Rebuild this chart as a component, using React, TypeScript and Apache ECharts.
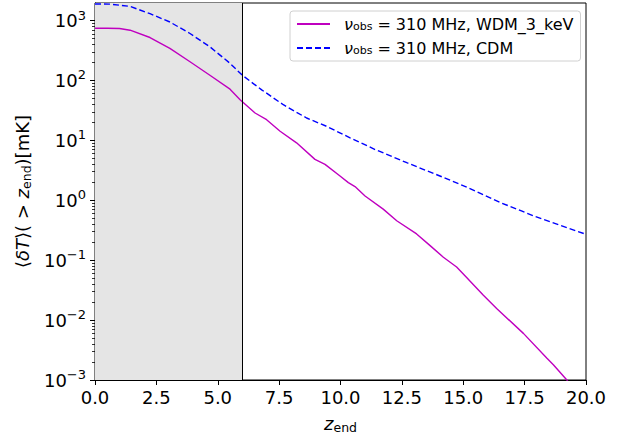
import React, { useEffect, useRef } from "react";
import * as echarts from "echarts";

const wdmZ = [0, 0.5, 1.0, 1.43, 2.24, 3.05, 3.87, 4.68, 5.5, 5.91, 6.52, 6.99, 7.54, 8.21, 8.96, 9.37, 9.98, 10.32, 10.59, 11.0, 11.74, 12.29, 13.1, 13.65, 14.19, 14.73, 15.07, 15.82, 16.36, 17.45, 18.4, 18.67, 19.22, 19.6, 20.0];
const wdmT = [743, 743, 735, 689, 520, 342, 205, 122, 71.4, 47.5, 28.6, 22.1, 14.2, 9.08, 4.81, 3.97, 2.54, 1.97, 1.69, 1.18, 0.711, 0.455, 0.274, 0.175, 0.112, 0.0769, 0.055, 0.026, 0.0156, 0.006, 0.00232, 0.0018, 0.001, 0.0006, 0.00035];

const cdmZ = [0, 0.6, 1.43, 2.24, 3.05, 3.87, 4.68, 5.5, 6.0, 6.79, 7.67, 8.62, 9.44, 10.39, 11.41, 12.7, 14.05, 15.14, 16.5, 17.86, 20.0];
const cdmT = [1890, 1880, 1718, 1300, 944, 607, 364, 193, 122, 69.7, 39.3, 23.6, 17.1, 11.0, 7.03, 4.24, 2.54, 1.66, 0.92, 0.55, 0.27];

const seriesNames = ["WDM_3_keV", "CDM"];
const xTickStep = 2.5;
const yMin = 0.001;
const yMax = 1960;
const shadeRange = [0, 6];

const FONT = "DejaVu Sans";

const minorTicks: number[] = [];
for (let e = -3; e <= 3; e++) {
  for (let m = 2; m <= 9; m++) {
    const v = m * Math.pow(10, e);
    if (v > yMin && v < yMax) minorTicks.push(v);
  }
}

export default function App() {
  const ref = useRef<HTMLDivElement>(null);
  useEffect(() => {
    const chart = echarts.init(ref.current!, null, { renderer: "svg" });
    const wdm = wdmZ.map((z, i) => [z, wdmT[i]]);
    const cdm = cdmZ.map((z, i) => [z, cdmT[i]]);
    chart.setOption({
      animation: false,
      backgroundColor: "#fff",
      grid: {
        left: 95,
        right: 44,
        top: 3,
        bottom: 57,
        show: true,
        borderColor: "#000",
        borderWidth: 1,
        backgroundColor: "transparent",
      },
      legend: {
        orient: "vertical",
        left: 290,
        top: 11,
        padding: [5, 7, 5, 6],
        itemGap: 8,
        itemWidth: 33,
        itemHeight: 14,
        backgroundColor: "rgba(255,255,255,0.85)",
        borderColor: "#d0d0d0",
        borderWidth: 1,
        borderRadius: 3,
        itemStyle: { opacity: 0 },
        data: seriesNames,
        formatter: (name: string) =>
          "{i|ν}{s|obs}{n|= 310 MHz, " + name + "}",
        textStyle: {
          fontFamily: FONT,
          fontSize: 16,
          color: "#000",
          rich: {
            i: { fontFamily: FONT, fontSize: 16, fontStyle: "italic", color: "#000", padding: [0, 0, 0, 9] },
            s: { fontFamily: FONT, fontSize: 11, color: "#000", verticalAlign: "bottom", lineHeight: 14 },
            n: { fontFamily: FONT, fontSize: 16, color: "#000", padding: [0, 0, 0, 5] },
          },
        },
      },
      xAxis: {
        type: "value",
        min: 0,
        max: 20,
        interval: xTickStep,
        name: "{i|z}{s|end}",
        nameLocation: "middle",
        nameGap: 32,
        nameTextStyle: {
          fontFamily: FONT,
          color: "#000",
          rich: {
            i: { fontFamily: FONT, fontSize: 18, fontStyle: "italic", color: "#000", lineHeight: 22 },
            s: { fontFamily: FONT, fontSize: 12.5, color: "#000", verticalAlign: "bottom", lineHeight: 16 },
          },
        },
        axisLine: { show: true, lineStyle: { color: "#000", width: 1 } },
        axisTick: { show: true, length: 5, inside: false, lineStyle: { color: "#000", width: 1 } },
        axisLabel: {
          fontFamily: FONT,
          fontSize: 18,
          color: "#000",
          margin: 8,
          formatter: (v: number) => v.toFixed(1),
        },
        splitLine: { show: false },
      },
      yAxis: [
        {
          type: "log",
          logBase: 10,
          min: yMin,
          max: yMax,
          name: "{n|⟨}{i|δT}{n|⟩( > }{i|z}{s|end}{n|)[mK]}",
          nameLocation: "middle",
          nameGap: 56,
          nameRotate: 90,
          nameTextStyle: {
            fontFamily: FONT,
            color: "#000",
            rich: {
              n: { fontFamily: FONT, fontSize: 18, color: "#000", lineHeight: 22 },
              i: { fontFamily: FONT, fontSize: 18, fontStyle: "italic", color: "#000", lineHeight: 22 },
              s: { fontFamily: FONT, fontSize: 12.5, color: "#000", verticalAlign: "bottom", lineHeight: 16 },
            },
          },
          axisLine: { show: true, lineStyle: { color: "#000", width: 1 } },
          axisTick: { show: true, length: 5, inside: false, lineStyle: { color: "#000", width: 1 } },
          axisLabel: {
            fontFamily: FONT,
            color: "#000",
            margin: 9,
            formatter: (v: number) => {
              const e = Math.round(Math.log10(v));
              const es = e < 0 ? "−" + -e : String(e);
              return "{b|10}{e|" + es + "}";
            },
            rich: {
              b: { fontFamily: FONT, fontSize: 18, color: "#000", lineHeight: 24 },
              e: { fontFamily: FONT, fontSize: 13, color: "#000", verticalAlign: "top", lineHeight: 13 },
            },
          },
          splitLine: { show: false },
        },
        {
          type: "log",
          logBase: 10,
          min: yMin,
          max: yMax,
          position: "left",
          axisLine: { show: false },
          axisLabel: { show: false },
          splitLine: { show: false },
          axisTick: {
            show: true,
            length: 3,
            inside: false,
            customValues: minorTicks,
            lineStyle: { color: "#000", width: 0.8 },
          },
        },
      ],
      series: [
        {
          name: seriesNames[0],
          type: "line",
          data: wdm,
          showSymbol: false,
          symbol: "none",
          clip: true,
          lineStyle: { color: "#bf00bf", width: 1.4 },
          itemStyle: { color: "#bf00bf" },
          z: 3,
          markArea: {
            silent: true,
            itemStyle: { color: "#e5e5e5" },
            data: [[{ xAxis: shadeRange[0] }, { xAxis: shadeRange[1] }]],
          },
          markLine: {
            silent: true,
            symbol: "none",
            label: { show: false },
            lineStyle: { color: "#000", width: 1, type: "solid" },
            data: [{ xAxis: shadeRange[1] }],
          },
        },
        {
          name: seriesNames[1],
          type: "line",
          data: cdm,
          showSymbol: false,
          symbol: "none",
          clip: true,
          lineStyle: { color: "#0000ff", width: 1.4, type: [6, 3] },
          itemStyle: { color: "#0000ff" },
          z: 3,
        },
      ],
    });
    return () => chart.dispose();
  }, []);
  return (
    <div
      ref={ref}
      style={{ position: "fixed", left: 0, top: 0, width: 630, height: 439 }}
    />
  );
}
